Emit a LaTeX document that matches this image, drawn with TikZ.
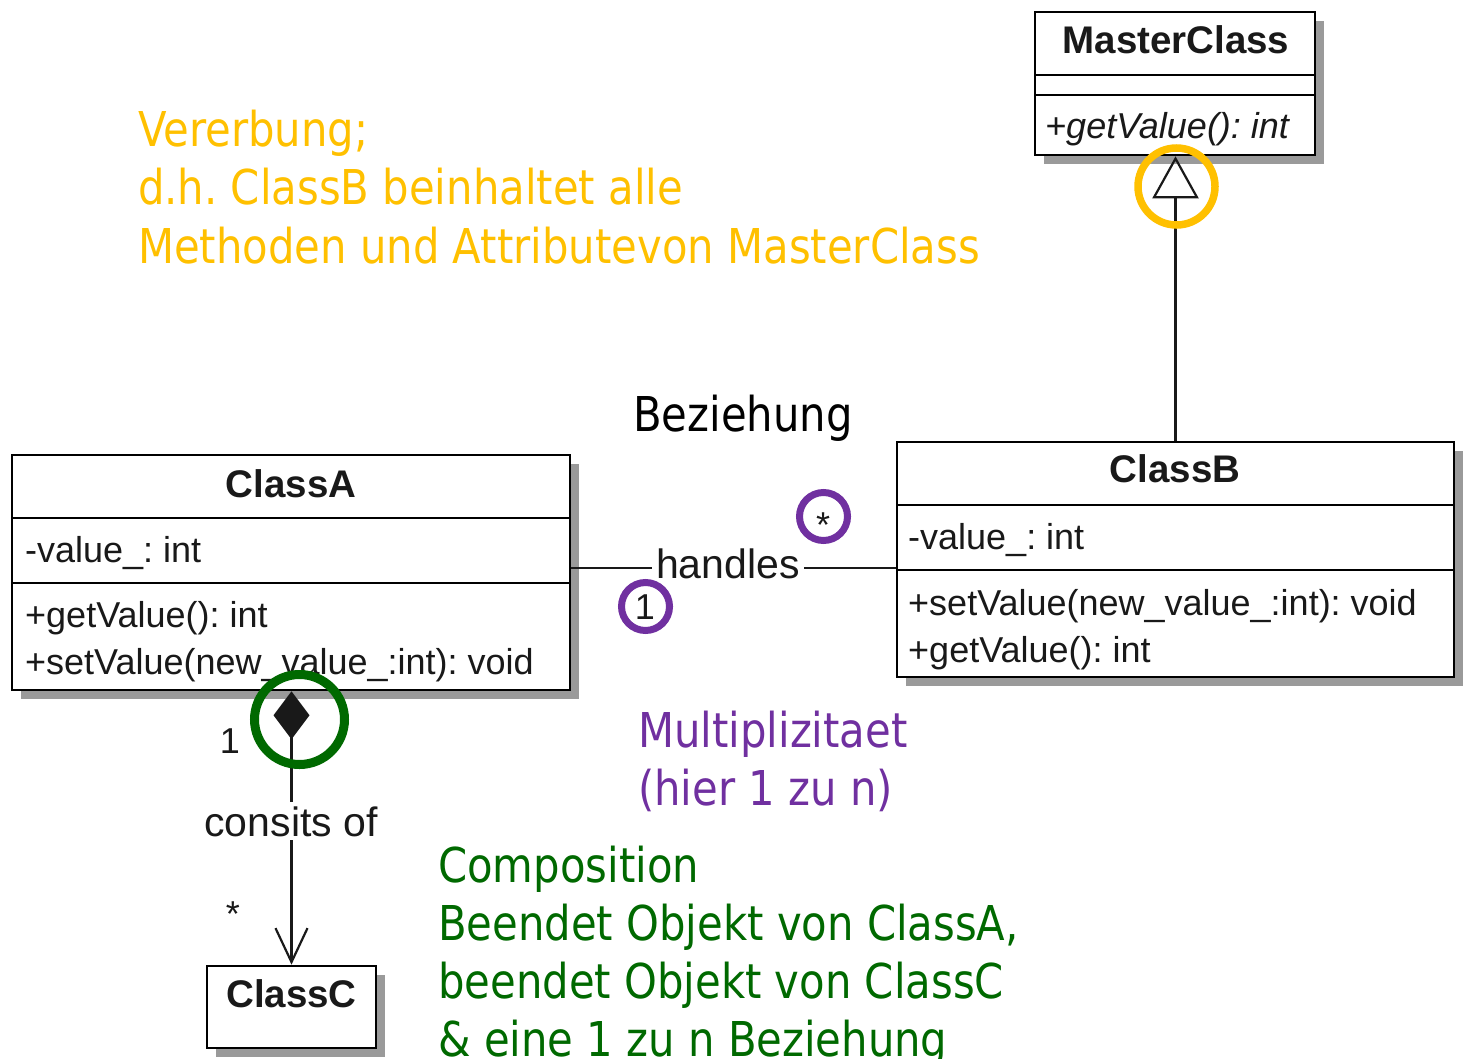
\documentclass[tikz,border=0pt]{standalone}
\usepackage{fontspec}
\usetikzlibrary{arrows.meta,shadows}
\newfontfamily\umlfont{Liberation Sans}
\newfontfamily\annotfont[FakeStretch=0.87]{DejaVu Sans}
\definecolor{goldc}{HTML}{FFC000}
\definecolor{purplec}{HTML}{7030A0}
\definecolor{greenc}{RGB}{0,105,0}
\definecolor{shadowc}{HTML}{9A9A9A}
\frenchspacing
\begin{document}
\begin{tikzpicture}[x=1pt,y=-1pt,
  umlbox/.style={draw=black, line width=2.6pt, fill=white, inner sep=0pt,
    drop shadow={shadow xshift=9pt, shadow yshift=-9pt, fill=shadowc, opacity=1}},
  divider/.style={line width=2.4pt, draw=black},
  umltitle/.style={anchor=base, inner sep=0pt, font=\umlfont\bfseries\fontsize{38.5}{40}\selectfont, text=black!90},
  umltext/.style={anchor=base west, inner sep=0pt, font=\umlfont\fontsize{36}{40}\selectfont, text=black!90},
  multi/.style={anchor=base, inner sep=0pt, font=\umlfont\fontsize{36}{40}\selectfont, text=black!90},
  annot/.style={anchor=base west, inner sep=0pt, font=\annotfont\fontsize{48}{58}\selectfont},
  ring/.style={circle, line width=7.5pt, fill=none, inner sep=0pt},
  link/.style={line width=2.2pt, draw=black!90},
  lbl/.style={anchor=base, fill=white, inner xsep=4pt, inner ysep=4pt, font=\umlfont\fontsize{41}{44}\selectfont, text=black!90},
]
\useasboundingbox (0,0) rectangle (1466,1059);

% ---------- MasterClass ----------
\node[umlbox, minimum width=280pt, minimum height=143pt] (master) at (1175,83.5) {};
\draw[divider] (1035,75) -- (1315,75);
\draw[divider] (1035,95) -- (1315,95);
\node[umltitle] (masterT) at (1176,54) {MasterClass};
\node[umltext] (masterOp) at (1045,139) {\itshape +getValue(): int};

% ---------- ClassA ----------
\node[umlbox, minimum width=558pt, minimum height=235pt] (classA) at (291,572.5) {};
\draw[divider] (12,518) -- (570,518);
\draw[divider] (12,583) -- (570,583);
\node[umltitle] (classAT) at (291,497) {ClassA};
\node[umltext] (classAa) at (25,562) {-value\_: int};
\node[umltext] (classAo1) at (25,627) {+getValue(): int};
\node[umltext] (classAo2) at (25,674) {+setValue(new\_value\_:int): void};

% ---------- ClassB ----------
\node[umlbox, minimum width=557pt, minimum height=235pt] (classB) at (1175.5,559.5) {};
\draw[divider] (897,505) -- (1454,505);
\draw[divider] (897,570) -- (1454,570);
\node[umltitle] (classBT) at (1175,482) {ClassB};
\node[umltext] (classBa) at (908,549) {-value\_: int};
\node[umltext] (classBo1) at (908,615) {+setValue(new\_value\_:int): void};
\node[umltext] (classBo2) at (908,662) {+getValue(): int};

% ---------- ClassC ----------
\node[umlbox, minimum width=169pt, minimum height=82pt] (classC) at (291.5,1007) {};
\node[umltitle] (classCT) at (291.5,1007) {ClassC};

% ---------- Generalization ----------
\draw[link, -{Triangle[open, length=42pt, width=46pt]}] (classB.north) -- (classB.north |- master.south);

% ---------- Association ----------
\draw[link] ([yshift=4.5pt]classA.east) -- ([yshift=4.5pt]classA.east -| classB.west);
\node[lbl] (handles) at (728,578) {handles};
\node[multi] (mA) at (645,619) {1};
\node[multi] (mB) at (823,537) {*};

% ---------- Composition ----------
\draw[link, {Diamond[length=48pt, width=36pt]}-{Straight Barb[length=34pt, width=32pt]}]
  (classC.north |- classA.south) -- (classC.north);
\node[lbl] (consits) at (291,836) {consits of};
\node[multi] (cA) at (230,753) {1};
\node[multi] (cC) at (233,926) {*};

% ---------- Highlight rings ----------
\node[ring, draw=goldc, minimum size=77pt] (ringGen) at (1176.5,186.5) {};
\node[ring, draw=purplec, line width=7pt, minimum size=48pt] (ringA) at (645.5,606.5) {};
\node[ring, draw=purplec, line width=7pt, minimum size=48pt] (ringB) at (823.5,516.5) {};
\node[ring, draw=greenc, line width=9pt, minimum size=90pt] (ringComp) at (299.5,719.5) {};

% ---------- Annotations ----------
\node[annot, text=goldc] (y1) at (138,147) {Vererbung;};
\node[annot, text=goldc] (y2) at (138,205) {d.h. ClassB beinhaltet alle};
\node[annot, text=goldc] (y3) at (138,263) {Methoden und Attributevon MasterClass};

\node[annot, text=black] (bez) at (633,431) {Beziehung};

\node[annot, text=purplec] (p1) at (638,747) {Multiplizitaet};
\node[annot, text=purplec] (p2) at (638,805) {(hier 1 zu n)};

\node[annot, text=greenc] (g1) at (438,882) {Composition};
\node[annot, text=greenc] (g2) at (438,940) {Beendet Objekt von ClassA,};
\node[annot, text=greenc] (g3) at (438,998) {beendet Objekt von ClassC};
\node[annot, text=greenc] (g4) at (438,1056) {\& eine 1 zu n Beziehung};
\end{tikzpicture}
\end{document}
